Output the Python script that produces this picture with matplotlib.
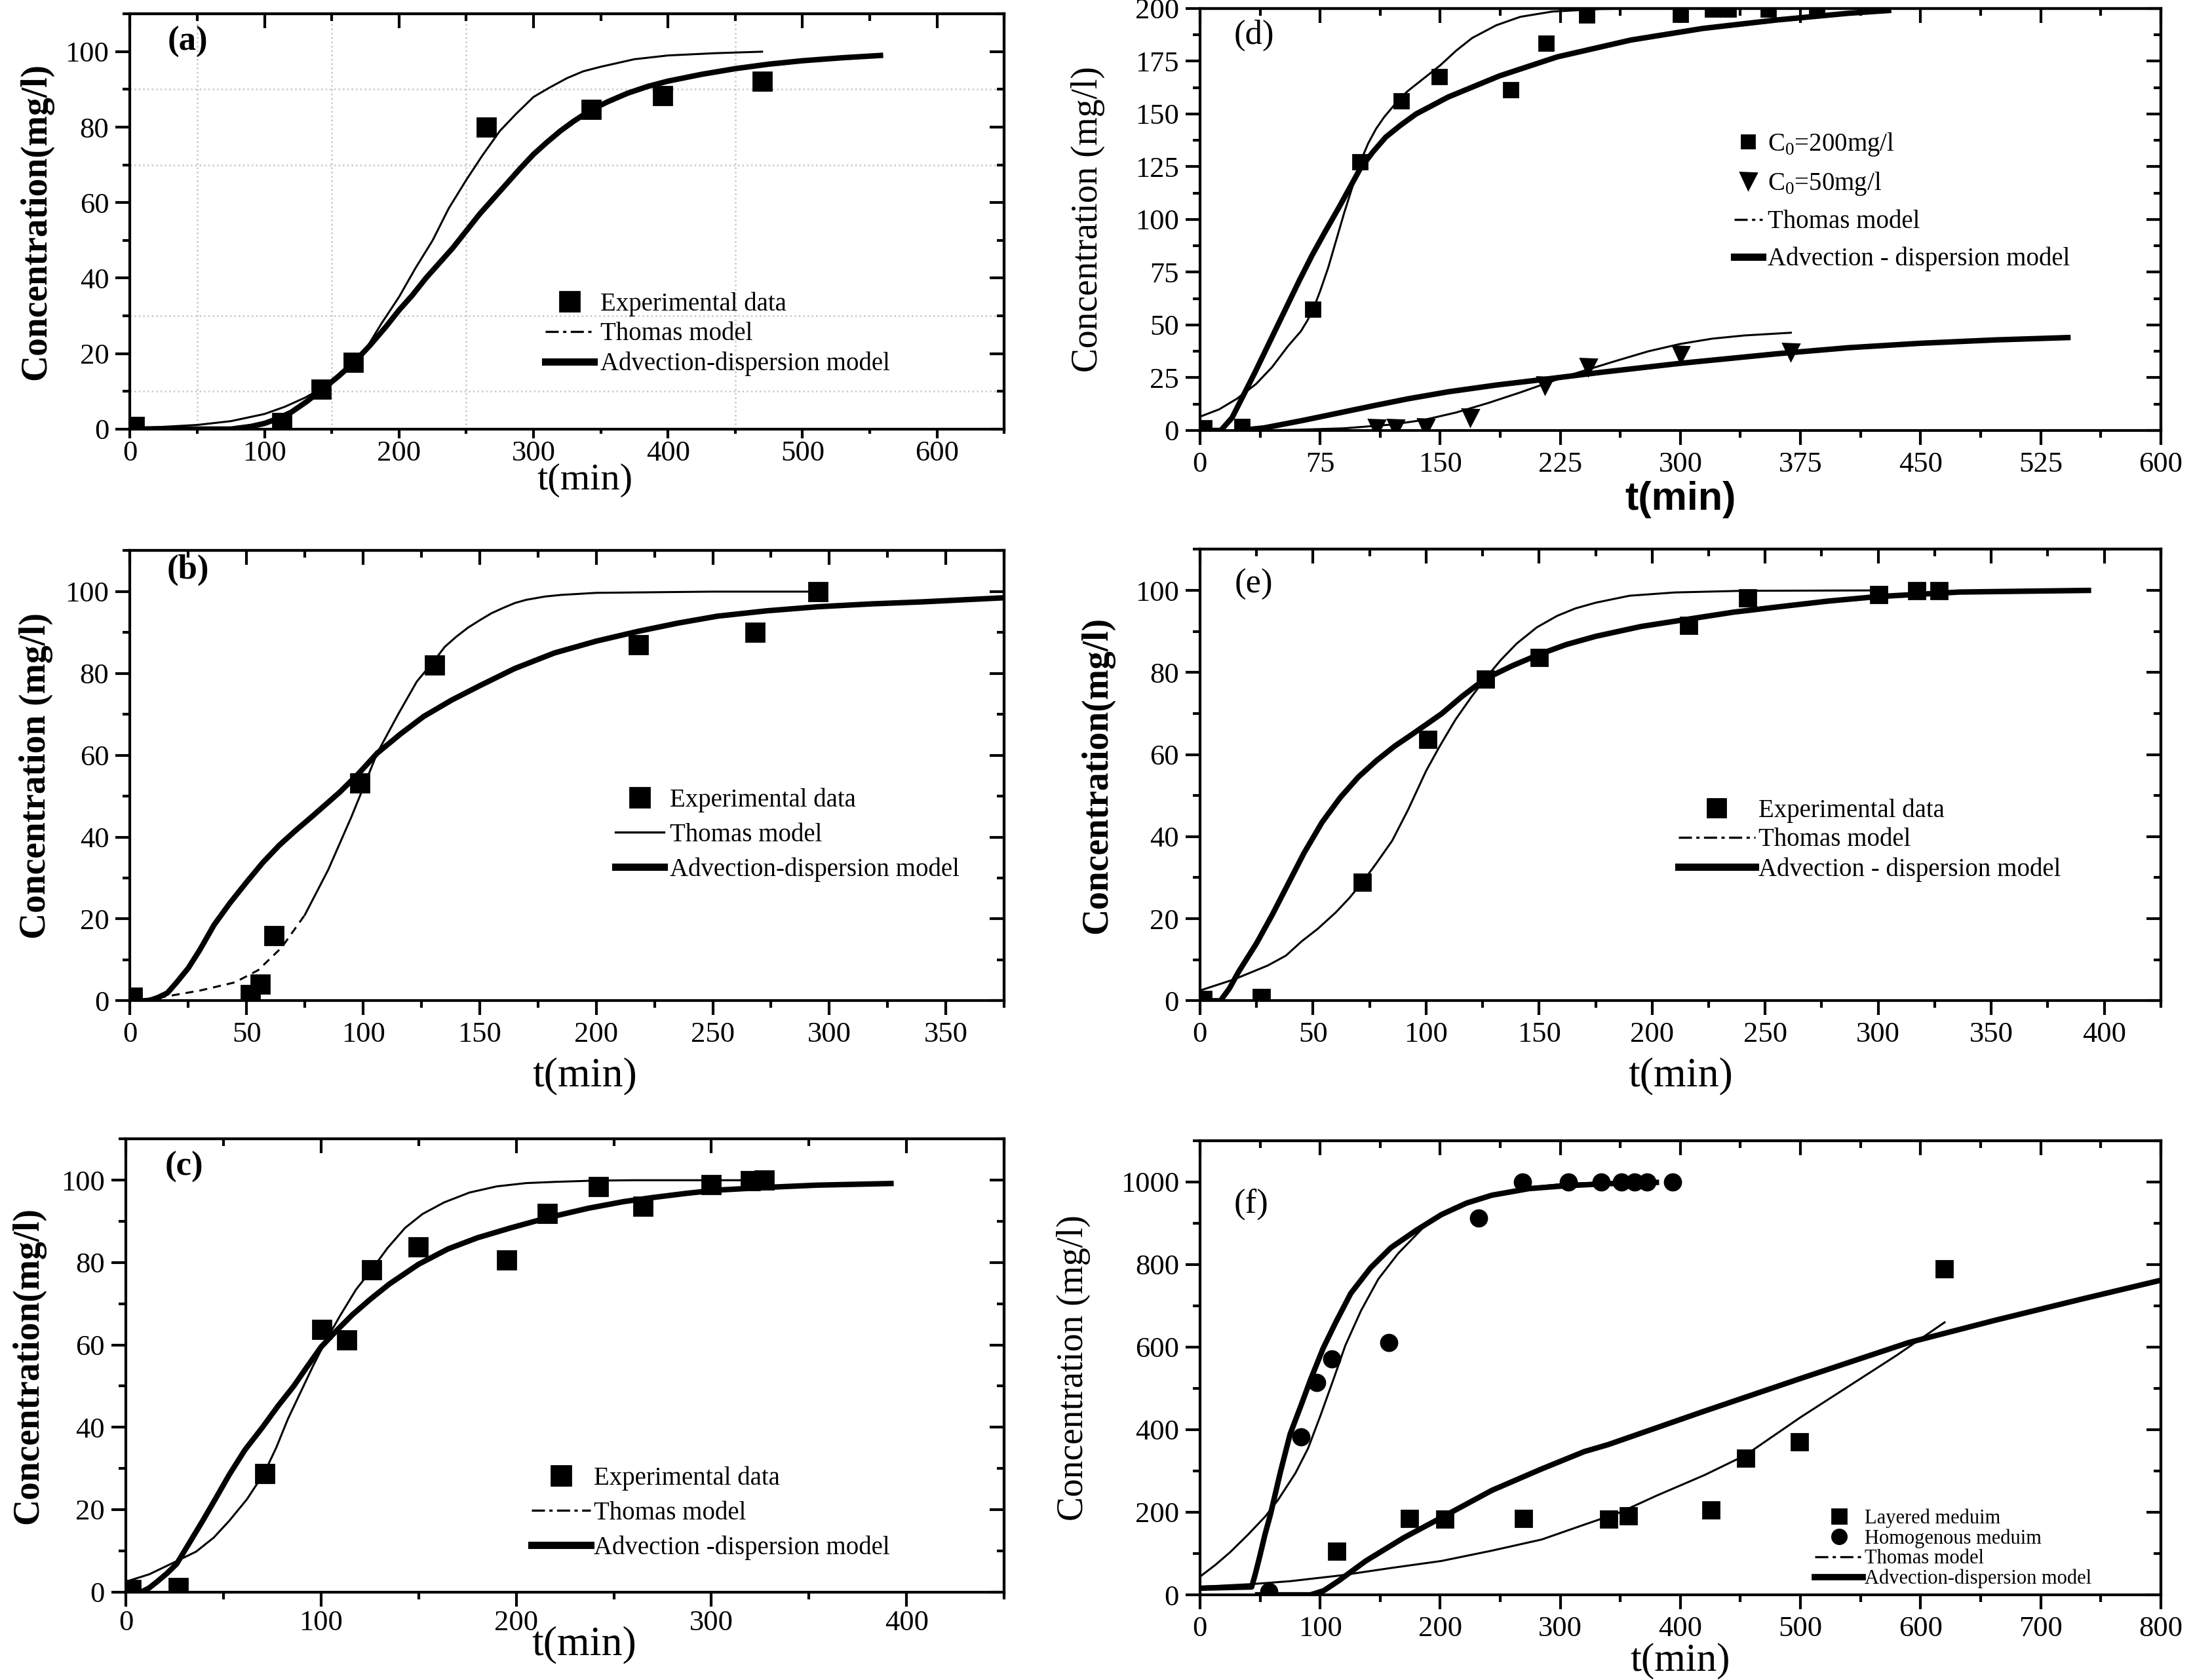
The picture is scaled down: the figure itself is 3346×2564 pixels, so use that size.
import matplotlib
matplotlib.use('Agg')
import matplotlib.pyplot as plt
from matplotlib.lines import Line2D
from matplotlib.ticker import MultipleLocator

plt.rcParams.update({
    'font.family': 'serif',
    'font.serif': ['Liberation Serif', 'DejaVu Serif'],
    'mathtext.fontset': 'custom',
    'mathtext.rm': 'Liberation Serif',
    'axes.linewidth': 1.5,
})

# ---- panel (a) ----
a_exp_t = [3, 113, 142, 166, 265, 343, 396, 470]
a_exp_c = [0.6, 1.7, 10.6, 17.7, 80, 84.7, 88.4, 92.2]
a_thomas_t = [0, 25, 50, 75, 100, 115, 130, 145, 160, 175, 187, 200, 212, 225, 237, 250, 262,
              275, 287, 300, 312, 325, 337, 350, 375, 400, 435, 470]
a_thomas_c = [0.3, 0.6, 1.1, 2.1, 4, 5.9, 8.3, 11.3, 15.5, 21, 28, 35, 42.5, 50, 58.5, 66, 72.5,
              79, 83.5, 88, 90.5, 93, 94.8, 96, 98, 99, 99.6, 100]
a_ade_t = [0, 75, 90, 100, 110, 120, 131, 143, 155, 166, 178, 190, 200, 210, 220, 230, 240, 250,
           260, 270, 280, 290, 300, 310, 320, 330, 343, 355, 370, 385, 400, 425, 450, 475, 500,
           530, 558]
a_ade_c = [0, 0, 0.7, 1.5, 2.8, 4.5, 7.2, 10.5, 14, 17.5, 22, 27, 31.5, 35.5, 40, 44, 48, 52.5,
           57, 61, 65, 69, 72.8, 76, 79, 81.6, 84.6, 86.7, 89, 90.8, 92.2, 94, 95.5, 96.7, 97.6,
           98.4, 99]

# ---- panel (b) ----
b_exp_t = [1, 51.7, 55.7, 61.6, 98.7, 130.7, 218, 268, 295]
b_exp_c = [0.9, 1.5, 4.1, 15.9, 53.2, 82, 87, 90, 100]
b_thomas_t = [0, 15, 30, 45, 55, 65, 75, 85, 95, 100, 106, 115, 123, 131, 135, 140, 145, 150,
              155, 160, 165, 170, 178, 185, 200, 250, 295]
b_thomas_c = [0, 1, 2.5, 4.5, 7.5, 13, 21, 32, 45, 52, 60.5, 70, 78, 83.5, 86.5, 89, 91.2, 93,
              94.7, 96, 97.2, 98, 98.8, 99.2, 99.7, 100, 100]
b_ade_t = [0, 8, 12, 16, 20, 25, 30, 36, 43, 50, 57, 64, 71, 78, 84, 90, 98, 106, 116, 126, 138,
           150, 165, 182, 200, 218, 235, 252, 273, 295, 318, 340, 375]
b_ade_c = [0, 0, 0.8, 1.9, 4.5, 8, 12.5, 18.5, 24, 29, 33.8, 38, 41.6, 45, 48, 51, 55.5, 60.5,
           65.2, 69.5, 73.5, 77, 81.2, 85, 87.9, 90.3, 92.3, 94, 95.3, 96.3, 97, 97.5, 98.5]

# ---- panel (c) ----
c_exp_t = [2.7, 26.8, 71.2, 100.3, 113, 125.8, 149.8, 195, 216, 242, 265, 300, 320, 327]
c_exp_c = [0.6, 1, 28.7, 63.8, 61.2, 78.3, 83.8, 80.7, 91.9, 98.5, 93.7, 99, 99.8, 100]
c_thomas_t = [0, 12, 23, 36, 45, 53, 62, 71, 77, 83, 90, 96, 103, 110, 118, 126, 134, 143, 152,
              163, 176, 190, 205, 220, 240, 260, 330]
c_thomas_c = [2.5, 4.3, 6.8, 9.8, 13.2, 17.3, 22.5, 29, 35, 42, 49, 55, 61.5, 67.3, 73.5, 78.3,
              83.5, 88.4, 91.8, 94.6, 97, 98.5, 99.3, 99.6, 99.9, 100, 100]
c_ade_t = [0, 8, 12, 16, 21, 26, 32, 39, 46, 53, 61, 70, 78, 86, 93, 100, 108, 116, 125, 135,
           150, 165, 180, 197, 217, 237, 255, 270, 287, 303, 330, 354, 392]
c_ade_c = [0, 0, 1, 2.5, 4.5, 6.8, 11.5, 17, 22.7, 28.5, 34.5, 40, 45.2, 50, 54.8, 59.5, 63.5,
           67.3, 71, 74.8, 79.6, 83.3, 86, 88.4, 91, 93.2, 94.8, 95.8, 96.8, 97.6, 98.3, 98.8,
           99.2]

# ---- panel (d) ----
d_exp200_t = [2.3, 26.4, 70.6, 100, 125.7, 149.4, 194, 216, 241.5, 300, 320, 330, 355, 385]
d_exp200_c = [1.1, 1.9, 57.5, 127.3, 156.3, 167.5, 161.3, 183.6, 196.9, 197.3, 199.5, 199.5,
              199.5, 199.5]
d_exp50_t = [110, 122, 141, 168.6, 215.5, 242.4, 300, 369]
d_exp50_c = [1.1, 1.1, 1.4, 6.3, 21.4, 30.2, 36, 37.3]
d_thomas200_t = [0, 12, 23, 35, 45, 55, 63, 67, 71, 75, 80, 90, 100, 105, 110, 115, 120, 125,
                 130, 140, 150, 160, 170, 185, 200, 220, 250, 280]
d_thomas200_c = [6.5, 10, 15, 22, 30, 40, 47, 52, 58, 66, 77, 103, 127, 136, 143, 148.5, 153,
                 157.5, 161, 167, 173, 180, 186, 192, 196, 198.5, 199.7, 200]
d_ade200_t = [0, 13, 20, 27, 34, 41, 48, 55, 62, 70, 78, 87, 100, 108, 116, 125, 135, 155, 187,
              223, 269, 314, 360, 405, 430]
d_ade200_c = [0, 0, 6, 16.5, 27, 38, 49, 60, 71, 83, 94, 106, 124, 132, 139, 144.5, 150, 158,
              168, 177, 185, 190.5, 194.5, 197.7, 199]
d_thomas50_t = [30, 60, 90, 120, 140, 160, 180, 200, 215, 230, 245, 260, 280, 300, 320, 340, 369]
d_thomas50_c = [0, 0.3, 1, 2.8, 5, 8.5, 13, 18, 22, 26, 29.5, 33, 37.5, 41, 43.5, 45, 46.3]
d_ade50_t = [25, 40, 64, 90, 109, 130, 155, 185, 215, 250, 300, 360, 405, 450, 497, 542]
d_ade50_c = [0, 1.2, 4.7, 8.8, 11.8, 15, 18.3, 21.5, 24.2, 27.5, 31.8, 36.3, 39.2, 41.3, 42.9, 44]

# ---- panel (e) ----
e_exp_t = [1.3, 27, 71.7, 100.7, 126, 149.8, 216, 242, 300, 317, 326.7]
e_exp_c = [0.4, 0.9, 28.9, 63.7, 78.4, 83.8, 91.6, 98.2, 99, 100, 100]
e_thomas_t = [0, 15, 30, 38, 45, 52, 60, 66, 72, 78, 85, 92, 100, 106, 113, 120, 126, 133, 140,
              149, 158, 166, 175, 190, 210, 240, 300]
e_thomas_c = [2.5, 5.2, 8.6, 11, 14.5, 17.5, 21.5, 25, 29, 33.5, 39, 46.5, 56, 62, 68.5, 74,
              78.4, 83, 87, 91, 93.8, 95.6, 97, 98.7, 99.5, 99.9, 100]
e_ade_t = [0, 9, 13, 17, 21, 25, 32, 39, 46, 54, 62, 70, 78, 86, 94, 100, 107, 116, 126, 138,
           150, 162, 175, 195, 216, 236, 256, 278, 300, 336, 393]
e_ade_c = [0, 0, 3, 7, 10.5, 14, 21, 28.5, 36, 43.5, 49.5, 54.5, 58.5, 62, 65, 67.3, 70, 74.2,
           78.4, 81.6, 84.4, 86.8, 88.8, 91.2, 93, 94.7, 96, 97.4, 98.5, 99.6, 100]

# ---- panel (f) ----
f_lay_t = [113.6, 174, 203.5, 269, 340, 356.6, 425, 454, 499, 619.7]
f_lay_c = [106, 185, 184, 185, 184, 192, 206, 332, 372, 791]
f_hom_t = [57.5, 84, 97, 110, 157, 232, 268.5, 306.5, 334, 351, 362, 372, 393.7]
f_hom_c = [8, 383, 515, 571, 611, 913, 1000, 1000, 1000, 1000, 1000, 1000, 1000]
f_thomas_hom_t = [0, 12.6, 25, 39.7, 54.4, 65, 79.5, 90, 100.4, 111, 121, 134, 148.5, 165, 186,
                  211, 243, 274, 305, 340]
f_thomas_hom_c = [44, 72, 103, 145, 190, 230, 295, 355, 435, 521, 604, 688, 765, 827, 890, 939,
                  970, 987, 996, 999]
f_ade_hom_t = [0, 43, 46, 50, 54, 58.6, 67, 75, 84, 92, 102.5, 113, 125.5, 142, 159, 180, 201,
               222, 243, 274, 305, 340, 380]
f_ade_hom_c = [16, 19, 50, 96, 145, 194, 298, 389, 458, 521, 597, 660, 730, 792, 841, 883, 921,
               949, 968, 984, 991, 996, 999]
f_thomas_lay_t = [0, 43, 75, 117, 159, 201, 243, 284.5, 320, 350, 380, 420, 454, 500, 540, 580, 620]
f_thomas_lay_c = [19.5, 26, 33, 47, 65, 82, 107, 134, 170, 200, 240, 290, 338, 430, 505, 580, 660]
f_ade_lay_t = [48, 92, 103, 115, 138, 169.5, 201, 243, 284.5, 320, 340, 419, 499, 590, 662, 735, 800]
f_ade_lay_c = [0, 0, 10, 33, 82, 138, 187, 253, 305, 347, 364, 444, 523, 611, 665, 717, 762]

THIN = 1.1
THICK = 3.0
TICK_FS = 16
DASHDOT = (0, (6, 2, 1.5, 2))


def style_axes(ax, xlim, ylim, xmaj, xmin, ymaj, ymin, xpad=3.5, xlen=8):
    ax.set_xlim(*xlim)
    ax.set_ylim(*ylim)
    for axis, maj, mnr in [(ax.xaxis, xmaj, xmin), (ax.yaxis, ymaj, ymin)]:
        axis.set_major_locator(MultipleLocator(maj))
        axis.set_minor_locator(MultipleLocator(mnr))
    ax.tick_params(which='both', direction='out', width=1.5, labelsize=TICK_FS)
    ax.tick_params(which='major', length=8)
    ax.tick_params(which='minor', length=4)
    ax.tick_params(axis='x', which='major', pad=xpad, length=xlen)
    ax.tick_params(axis='x', which='minor', length=xlen / 2)
    # top and right ticks point inward, as in the original
    top = ax.secondary_xaxis('top')
    right = ax.secondary_yaxis('right')
    for sec, maj, mnr in [(top.xaxis, xmaj, xmin), (right.yaxis, ymaj, ymin)]:
        sec.set_major_locator(MultipleLocator(maj))
        sec.set_minor_locator(MultipleLocator(mnr))
    top.tick_params(which='both', direction='in', width=1.5, labeltop=False)
    right.tick_params(which='both', direction='in', width=1.5, labelright=False)
    for sec in (top, right):
        sec.tick_params(which='major', length=8)
        sec.tick_params(which='minor', length=4)


def labels(ax, ylabel, ylab_x, xlab_x, xlab_y, panel, px, py, bold_y=True, bold_panel=True,
           sans_x=False, xfs=23):
    ax.set_ylabel(ylabel, fontsize=20, fontweight='bold' if bold_y else 'normal')
    ax.yaxis.set_label_coords(ylab_x, 0.5)
    if sans_x:
        ax.set_xlabel('t(min)', fontsize=22, fontweight='bold', family='Liberation Sans')
    else:
        ax.set_xlabel('t(min)', fontsize=xfs)
    ax.xaxis.set_label_coords(xlab_x, xlab_y)
    ax.text(px, py, panel, transform=ax.transAxes, ha='center', va='center',
            fontsize=19, fontweight='bold' if bold_panel else 'normal')


def std_handles(ms=11, thomas_ls=DASHDOT):
    return [
        Line2D([], [], ls='none', marker='s', color='k', ms=ms),
        Line2D([], [], ls=thomas_ls, color='k', lw=1.2),
        Line2D([], [], ls='-', color='k', lw=THICK + 1),
    ]


fig = plt.figure(figsize=(16.73, 12.82), dpi=200)

# ---------------- (a) ----------------
ax = fig.add_axes([0.0593, 0.7446, 0.3986, 0.2471])
style_axes(ax, (0, 650), (0, 110), 100, 50, 20, 10, xpad=1, xlen=5)
for gx in [50, 150, 250, 450]:
    ax.axvline(gx, color='#c8c8c8', lw=0.9, ls=':', zorder=0)
for gy in [10, 30, 70, 90]:
    ax.axhline(gy, color='#c8c8c8', lw=0.9, ls=':', zorder=0)
ax.plot(a_thomas_t, a_thomas_c, color='k', lw=THIN)
ax.plot(a_ade_t, a_ade_c, color='k', lw=THICK)
ax.plot(a_exp_t, a_exp_c, 's', color='k', ms=10)
ax.legend(std_handles(), ['Experimental data', 'Thomas model', 'Advection-dispersion model'],
          loc='upper left', bbox_to_anchor=(0.475, 0.331), frameon=False, fontsize=14,
          handlelength=1.9, handletextpad=0.25, labelspacing=0.22, borderpad=0, borderaxespad=0)
labels(ax, 'Concentration(mg/l)', -0.088, 0.52, -0.082, '(a)', 0.066, 0.933, xfs=21)

# ---------------- (b) ----------------
ax = fig.add_axes([0.0593, 0.4043, 0.3986, 0.2679])
style_axes(ax, (0, 375), (0, 110), 50, 25, 20, 10)
ax.plot(b_thomas_t[:7], b_thomas_c[:7], color='k', lw=THIN, ls=(0, (4, 3)))
ax.plot(b_thomas_t[6:], b_thomas_c[6:], color='k', lw=THIN)
ax.plot(b_ade_t, b_ade_c, color='k', lw=THICK)
ax.plot(b_exp_t, b_exp_c, 's', color='k', ms=10)
ax.legend(std_handles(thomas_ls='-'), ['Experimental data', 'Thomas model', 'Advection-dispersion model'],
          loc='upper left', bbox_to_anchor=(0.555, 0.473), frameon=False, fontsize=14,
          handlelength=1.9, handletextpad=0.25, labelspacing=0.4, borderpad=0, borderaxespad=0)
labels(ax, 'Concentration (mg/l)', -0.088, 0.52, -0.125, '(b)', 0.066, 0.957)

# ---------------- (c) ----------------
ax = fig.add_axes([0.0574, 0.0524, 0.4005, 0.2696])
style_axes(ax, (0, 450), (0, 110), 100, 50, 20, 10, xpad=2)
ax.plot(c_thomas_t, c_thomas_c, color='k', lw=THIN)
ax.plot(c_ade_t, c_ade_c, color='k', lw=THICK)
ax.plot(c_exp_t, c_exp_c, 's', color='k', ms=10)
ax.legend(std_handles(), ['Experimental data', 'Thomas model', 'Advection -dispersion model'],
          loc='upper left', bbox_to_anchor=(0.462, 0.278), frameon=False, fontsize=14,
          handlelength=2.3, handletextpad=0.15, labelspacing=0.4, borderpad=0, borderaxespad=0)
labels(ax, 'Concentration(mg/l)', -0.092, 0.522, -0.075, '(c)', 0.066, 0.938)

# ---------------- (d) ----------------
ax = fig.add_axes([0.5472, 0.7438, 0.4381, 0.2512])
style_axes(ax, (0, 600), (0, 200), 75, 37.5, 25, 12.5)
ax.plot(d_thomas200_t, d_thomas200_c, color='k', lw=THIN)
ax.plot(d_ade200_t, d_ade200_c, color='k', lw=THICK)
ax.plot(d_thomas50_t, d_thomas50_c, color='k', lw=THIN)
ax.plot(d_ade50_t, d_ade50_c, color='k', lw=THICK)
ax.plot(d_exp200_t, d_exp200_c, 's', color='k', ms=8)
ax.plot(d_exp50_t, d_exp50_c, 'v', color='k', ms=9)
d_handles = [
    Line2D([], [], ls='none', marker='s', color='k', ms=7),
    Line2D([], [], ls='none', marker='v', color='k', ms=9),
    Line2D([], [], ls=DASHDOT, color='k', lw=1.2),
    Line2D([], [], ls='-', color='k', lw=THICK + 1),
]
ax.legend(d_handles, [r'C$_\mathregular{0}$=200mg/l', r'C$_\mathregular{0}$=50mg/l',
                      'Thomas model', 'Advection - dispersion model'],
          loc='upper left', bbox_to_anchor=(0.556, 0.71), frameon=False, fontsize=14,
          handlelength=1.1, handletextpad=0.2, labelspacing=0.5, borderpad=0, borderaxespad=0)
labels(ax, 'Concentration (mg/l)', -0.099, 0.5, -0.12, '(d)', 0.056, 0.937,
       bold_y=False, bold_panel=False, sans_x=True)

# ---------------- (e) ----------------
ax = fig.add_axes([0.5472, 0.4043, 0.4381, 0.2687])
style_axes(ax, (0, 425), (0, 110), 50, 25, 20, 10)
ax.plot(e_thomas_t, e_thomas_c, color='k', lw=THIN)
ax.plot(e_ade_t, e_ade_c, color='k', lw=THICK)
ax.plot(e_exp_t, e_exp_c, 's', color='k', ms=9)
ax.legend(std_handles(ms=10), ['Experimental data', 'Thomas model', 'Advection - dispersion model'],
          loc='upper left', bbox_to_anchor=(0.498, 0.449), frameon=False, fontsize=14,
          handlelength=3.0, handletextpad=0.15, labelspacing=0.2, borderpad=0, borderaxespad=0)
labels(ax, 'Concentration(mg/l)', -0.089, 0.5, -0.125, '(e)', 0.056, 0.923, bold_panel=False)

# ---------------- (f) ----------------
ax = fig.add_axes([0.5472, 0.0507, 0.4381, 0.2703])
style_axes(ax, (0, 800), (0, 1100), 100, 50, 200, 100)
ax.plot(f_thomas_hom_t, f_thomas_hom_c, color='k', lw=THIN)
ax.plot(f_ade_hom_t, f_ade_hom_c, color='k', lw=THICK)
ax.plot(f_thomas_lay_t, f_thomas_lay_c, color='k', lw=THIN)
ax.plot(f_ade_lay_t, f_ade_lay_c, color='k', lw=THICK)
ax.plot(f_lay_t, f_lay_c, 's', color='k', ms=9)
ax.plot(f_hom_t, f_hom_c, 'o', color='k', ms=9)
f_handles = [
    Line2D([], [], ls='none', marker='s', color='k', ms=8),
    Line2D([], [], ls='none', marker='o', color='k', ms=8),
    Line2D([], [], ls=DASHDOT, color='k', lw=1.2),
    Line2D([], [], ls='-', color='k', lw=THICK + 0.5),
]
ax.legend(f_handles, ['Layered meduim', 'Homogenous meduim', 'Thomas model',
                      'Advection-dispersion model'],
          loc='upper left', bbox_to_anchor=(0.64, 0.19), frameon=False, fontsize=11,
          handlelength=2.4, handletextpad=0.1, labelspacing=0.05, borderpad=0, borderaxespad=0)
labels(ax, 'Concentration (mg/l)', -0.114, 0.5, -0.105, '(f)', 0.053, 0.86,
       bold_y=False, bold_panel=False, xfs=22)

fig.savefig('out.png', dpi=200)
